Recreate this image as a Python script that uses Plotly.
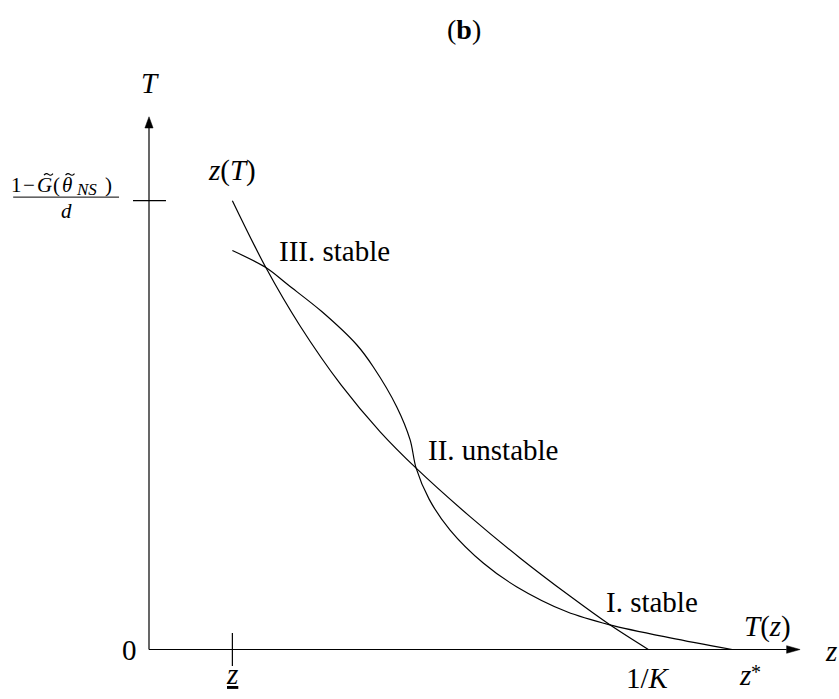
import plotly.graph_objects as go

# Curve z(T): points along the curve (z, T)
zT_z = [0.167, 0.234, 0.302, 0.385, 0.463, 0.535, 0.643, 0.743, 0.843, 0.923, 1.000]
zT_T = [1.000, 0.851, 0.722, 0.589, 0.485, 0.404, 0.296, 0.204, 0.119, 0.055, 0.000]

# Curve T(z): points along the curve (z, T)
Tz_z = [0.167, 0.234, 0.279, 0.346, 0.416, 0.449, 0.496, 0.523, 0.535, 0.561, 0.603,
        0.670, 0.736, 0.837, 0.923, 1.044, 1.168]
Tz_T = [0.889, 0.851, 0.812, 0.753, 0.679, 0.630, 0.541, 0.467, 0.404, 0.335, 0.266,
        0.192, 0.140, 0.084, 0.055, 0.026, 0.000]

# Key positions on the axes
z_low = 0.167      # underlined z
inv_K = 1.000      # 1/K
z_star = 1.168     # z*
T_max = 1.000      # (1 - G(theta_NS)) / d

# Equilibrium labels: (text, z, T)
eq_labels = [("III. stable", 0.256, 0.8875),
             ("II. unstable", 0.554, 0.444),
             ("I. stable", 0.912, 0.105)]

# Pieces of the T-axis fraction label: (text, z, T, size)
frac_pieces = [("1", -0.2654, 1.035, 21),
               ("\u2212", -0.2413, 1.035, 21),
               ("<i>G</i>", -0.2083, 1.035, 21),
               ("(", -0.1853, 1.035, 21),
               ("<i>\u03b8</i>", -0.1642, 1.035, 21),
               ("<i>NS</i>", -0.1250, 1.024, 17),
               (")", -0.0820, 1.035, 21),
               ("<i>d</i>", -0.1660, 0.978, 21)]
# tilde accents above G and theta: (z, T)
tilde_pos = [(-0.2013, 1.0585), (-0.1582, 1.0585)]

X_RANGE = [-0.2984, 1.3819]
Y_RANGE = [-0.1103, 1.4472]
X_TIP = 1.304
Y_TIP = 1.187

FONT = "Liberation Serif"
SIZE = 29
INK = "black"
LW = 1.2

fig = go.Figure()
for xs, ys in ((zT_z, zT_T), (Tz_z, Tz_T)):
    fig.add_trace(go.Scatter(x=xs, y=ys, mode="lines",
                             line=dict(color=INK, width=LW, shape="spline", smoothing=0.9),
                             hoverinfo="skip"))

# arrowhead sizes in axis units
hx_len, hx_half = 0.027, 0.0085
hy_len, hy_half = 0.025, 0.0082

shapes = [
    # horizontal axis
    dict(type="line", x0=0, x1=X_TIP - hx_len, y0=0, y1=0, line=dict(color=INK, width=LW)),
    dict(type="path", path=f"M {X_TIP},0 L {X_TIP - hx_len},{hx_half} L {X_TIP - hx_len},{-hx_half} Z",
         fillcolor=INK, line=dict(color=INK, width=0.5)),
    # vertical axis
    dict(type="line", x0=0, x1=0, y0=0, y1=Y_TIP - hy_len, line=dict(color=INK, width=LW)),
    dict(type="path", path=f"M 0,{Y_TIP} L {hy_half},{Y_TIP - hy_len} L {-hy_half},{Y_TIP - hy_len} Z",
         fillcolor=INK, line=dict(color=INK, width=0.5)),
    # tick on the T axis
    dict(type="line", x0=-0.032, x1=0.034, y0=T_max, y1=T_max, line=dict(color=INK, width=LW)),
    # tick on the z axis
    dict(type="line", x0=z_low, x1=z_low, y0=-0.037, y1=0.037, line=dict(color=INK, width=LW)),
    # fraction bar of the T-axis label
    dict(type="line", x0=-0.272, x1=-0.060, y0=1.008, y1=1.008, line=dict(color=INK, width=1)),
]

# small wave-shaped tilde accents
tw, ta = 0.018, 0.0028
for cx, cy in tilde_pos:
    shapes.append(dict(
        type="path",
        path=(f"M {cx - tw / 2},{cy - ta * 0.6} "
              f"Q {cx - tw / 4},{cy + 1.6 * ta} {cx},{cy} "
              f"T {cx + tw / 2},{cy + ta * 0.6}"),
        line=dict(color=INK, width=1.1)))


def txt(s, x, y, size=SIZE, xanchor="center", yanchor="middle", xshift=0, yshift=0):
    return dict(text=s, x=x, y=y, xref="x", yref="y", showarrow=False,
                font=dict(family=FONT, size=size, color=INK),
                xanchor=xanchor, yanchor=yanchor, xshift=xshift, yshift=yshift)


ann = []
ann.append(txt("<i>T</i>", 0.002, 1.262))
ann.append(txt("<i>z</i>(<i>T</i>)", 0.1656, 1.068))
for s, x, y in eq_labels:
    ann.append(txt(s, x, y, xanchor="left"))
ann.append(txt("<i>T</i>(<i>z</i>)", 1.188, 0.051, xanchor="left"))
ann.append(txt("<i>z</i>", 1.366, -0.003))
ann.append(txt("0", 0, 0, xanchor="right", xshift=-10))
ann.append(txt("<u><i>z</i></u>", z_low, -0.055))
ann.append(txt("1/<i>K</i>", inv_K, -0.064))
ann.append(txt("<i>z</i>", z_star, -0.057, xanchor="left", xshift=5))
ann.append(txt("*", z_star, -0.050, size=20, xanchor="left", xshift=17))
for s, x, y, sz in frac_pieces:
    ann.append(txt(s, x, y, size=sz))
ann.append(dict(text="(<b>b</b>)", x=464 / 839, y=1 - 29 / 699, xref="paper", yref="paper",
                showarrow=False, font=dict(family=FONT, size=28, color=INK),
                xanchor="center", yanchor="middle"))

fig.update_layout(
    width=839, height=699,
    margin=dict(l=0, r=0, t=0, b=0),
    paper_bgcolor="white", plot_bgcolor="white",
    showlegend=False,
    xaxis=dict(range=X_RANGE, visible=False, fixedrange=True),
    yaxis=dict(range=Y_RANGE, visible=False, fixedrange=True),
    annotations=ann, shapes=shapes,
)

fig.write_html("out.html")
